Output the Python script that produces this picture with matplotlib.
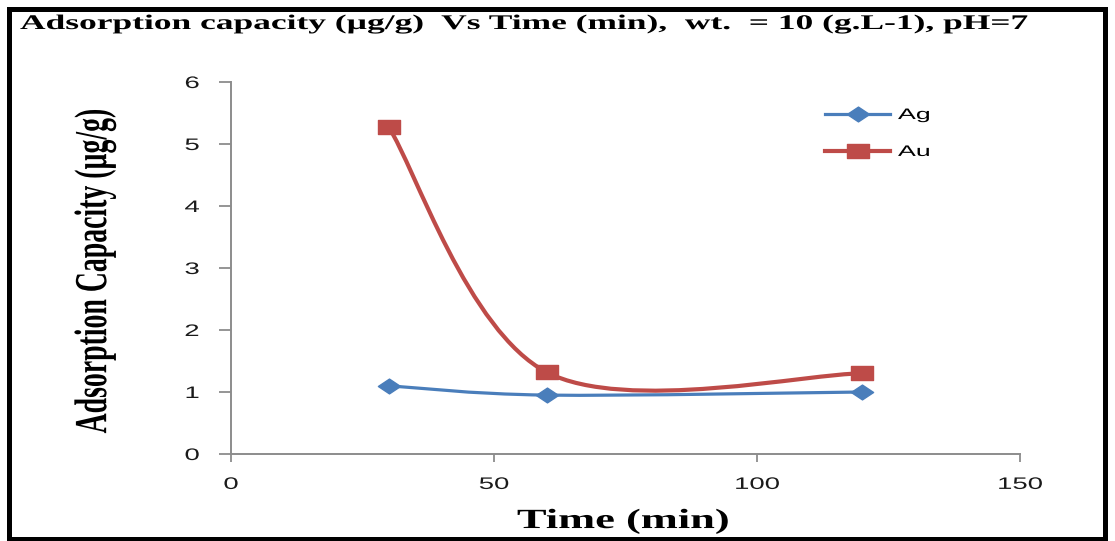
import numpy as np
import matplotlib.pyplot as plt
from matplotlib.path import Path
from matplotlib.patches import PathPatch, Rectangle
from matplotlib.lines import Line2D
from matplotlib.patheffects import AbstractPathEffect
from matplotlib.transforms import Affine2D

tempo = [30, 60, 120]
ag = [1.1, 0.95, 1.0]
au = [5.27, 1.32, 1.3]
nomes = ['Ag', 'Au']
titulo = 'Adsorption capacity (µg/g)  Vs Time (min),  wt.  = 10 (g.L-1), pH=7'

# marcadores largos (imagem original esticada na horizontal)
losango = Path([(-1.5, 0), (0, 1), (1.5, 0), (0, -1), (-1.5, 0)],
               [Path.MOVETO, Path.LINETO, Path.LINETO, Path.LINETO, Path.CLOSEPOLY])
quadrado = Path([(-1.5, -1), (1.5, -1), (1.5, 1), (-1.5, 1), (-1.5, -1)],
                [Path.MOVETO, Path.LINETO, Path.LINETO, Path.LINETO, Path.CLOSEPOLY])
series = [(ag, '#4a7ebb', losango, 16, 2.3), (au, '#be4b48', quadrado, 16, 3.0)]

ESTICA = 1.65


class Esticar(AbstractPathEffect):
    # estica o texto na horizontal em torno do ponto de ancoragem
    def __init__(self, texto, sx=ESTICA):
        super().__init__()
        self.texto = texto
        self.sx = sx

    def draw_path(self, renderer, gc, tpath, affine, rgbFace=None):
        bb = self.texto.get_window_extent(renderer)
        ha = self.texto.get_horizontalalignment()
        cx = {'left': bb.x0, 'right': bb.x1}.get(ha, (bb.x0 + bb.x1) / 2)
        t = affine + Affine2D().translate(-cx, 0).scale(self.sx, 1).translate(cx, 0)
        renderer.draw_path(gc, tpath, t, rgbFace)


def esticar(texto, sx=ESTICA):
    texto.set_path_effects([Esticar(texto, sx)])


def suave(x, y):
    # curva suavizada tipo excel (bezier catmull-rom)
    p = np.column_stack([x, y]).astype(float)
    verts = [p[0]]
    codes = [Path.MOVETO]
    n = len(p)
    for i in range(n - 1):
        p0 = p[i - 1] if i > 0 else p[i]
        p3 = p[i + 2] if i + 2 < n else p[i + 1]
        c1 = p[i] + (p[i + 1] - p0) / 6
        c2 = p[i + 1] - (p3 - p[i]) / 6
        verts += [c1, c2, p[i + 1]]
        codes += [Path.CURVE4] * 3
    return Path(verts, codes)


fig = plt.figure(figsize=(11.15, 5.41), dpi=100)
ax = fig.add_axes([231 / 1115, 1 - 454 / 541, (1020 - 231) / 1115, (454 - 82) / 541])

for y, cor, mk, ms, lw in series:
    ax.add_patch(PathPatch(suave(tempo, y), fill=False, edgecolor=cor, lw=lw, zorder=2))
    ax.plot(tempo, y, ls='none', marker=mk, color=cor, ms=ms, zorder=3)

ax.set_xlim(0, 150)
ax.set_ylim(0, 6)
ax.set_xticks([0, 50, 100, 150])
ax.set_yticks(range(7))
for s in ['top', 'right']:
    ax.spines[s].set_visible(False)
for s in ['left', 'bottom']:
    ax.spines[s].set_color('#8c8c8c')
    ax.spines[s].set_linewidth(1.4)
ax.tick_params(colors='#8c8c8c', width=1.3, labelcolor='#1a1a1a', labelsize=12)
ax.tick_params(axis='y', length=9, pad=13.5)
ax.tick_params(axis='x', length=5.5, pad=11)
for lab in ax.get_xticklabels() + ax.get_yticklabels():
    lab.set_family('Liberation Sans')
    esticar(lab)

xl = ax.set_xlabel('Time (min)', family='Liberation Serif', weight='bold', fontsize=20,
                   va='baseline')
ax.xaxis.set_label_coords(0.4975, -0.199)
esticar(xl, 1.6)
yl = ax.set_ylabel('Adsorption Capacity (µg/g)', family='Liberation Serif', weight='bold',
                   fontsize=20, va='center')
ax.yaxis.set_label_coords(-0.172, 0.492)
esticar(yl)

handles = [Line2D([], [], color=c, lw=lw, marker=m, ms=ms) for _, c, m, ms, lw in series]
leg = ax.legend(handles, nomes, loc='upper left', bbox_to_anchor=(0.735, 0.967),
                frameon=False, handlelength=4.3, handletextpad=0.5, labelspacing=1.5,
                prop={'family': 'Liberation Sans', 'size': 11})
for t in leg.get_texts():
    esticar(t, 1.75)

tt = fig.text(20 / 1115, 1 - 29 / 541, titulo, family='Liberation Serif', weight='bold',
              fontsize=15, va='baseline', ha='left')
esticar(tt, 1.7)
fig.patches.append(Rectangle((9 / 1115, 2 / 541), 1096 / 1115, 530 / 541,
                             transform=fig.transFigure, fill=False, edgecolor='black', lw=3.6))

plt.savefig('out.png')
